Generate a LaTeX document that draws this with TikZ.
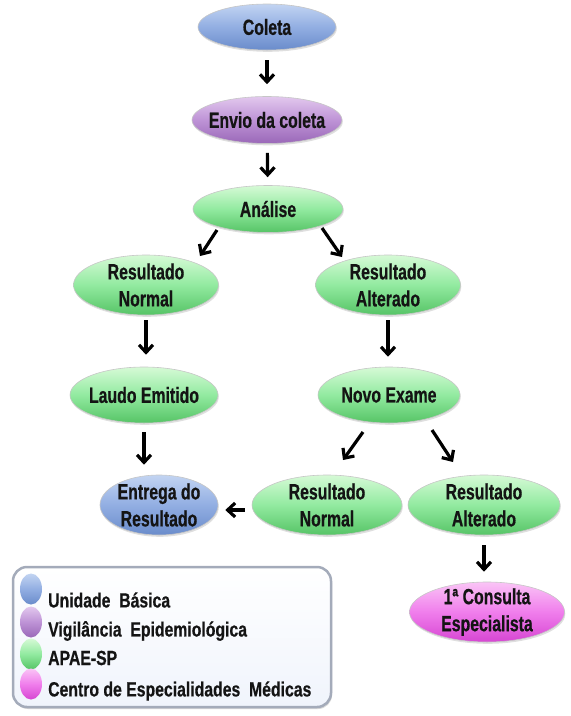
\documentclass[tikz,border=0pt]{standalone}
\usepackage{fontspec}
\setmainfont{Liberation Sans}[FakeStretch=0.72, BoldFeatures={FakeBold=0.6}]
\newfontfamily\legfont{Liberation Sans}[FakeStretch=0.77, BoldFeatures={FakeBold=0.5}]
\usetikzlibrary{shapes.geometric,arrows.meta,calc,shadows}
\definecolor{bT}{HTML}{C2D4F2}
\definecolor{bM}{HTML}{92AEE2}
\definecolor{bB}{HTML}{6A8CCB}
\definecolor{pT}{HTML}{E2C8EE}
\definecolor{pM}{HTML}{BE93D6}
\definecolor{pB}{HTML}{9A68B8}
\definecolor{gT}{HTML}{D6FAD6}
\definecolor{gM}{HTML}{92EAA0}
\definecolor{gB}{HTML}{56C466}
\definecolor{mT}{HTML}{FAC4F6}
\definecolor{mM}{HTML}{F07EEC}
\definecolor{mB}{HTML}{D646D2}
\definecolor{lgFill}{HTML}{F0F4FC}
\definecolor{lgDraw}{HTML}{A4ABBA}
\begin{document}
\begin{tikzpicture}[x=1pt,y=-1pt,
  ell/.style={ellipse, inner sep=0pt, draw=white!55!gray, line width=0.6pt,
    drop shadow={shadow xshift=0.8pt, shadow yshift=-1.8pt, opacity=0.25, fill=gray}},
  blueE/.style={ell, top color=bT, bottom color=bB, middle color=bM},
  purpE/.style={ell, top color=pT, bottom color=pB, middle color=pM},
  grnE/.style={ell, top color=gT, bottom color=gB, middle color=gM},
  magE/.style={ell, top color=mT, bottom color=mB, middle color=mM},
  txt/.style={align=center, inner sep=0pt, text=black!92,
    font=\bfseries\fontsize{22}{27}\selectfont},
  ltxt/.style={anchor=west, inner sep=0pt, text=black!92,
    font=\legfont\bfseries\fontsize{20.5}{22}\selectfont},
  arr/.style={line width=3.2pt, -{Straight Barb[length=7.5pt,width=14pt]}},
  dot/.style={ellipse, inner sep=0pt, minimum width=22pt, minimum height=31pt}
]
\useasboundingbox (0,0) rectangle (571,716);

% nodes
\node[blueE, minimum width=138pt, minimum height=46pt] (co) at (267,27) {};
\node[txt] (cot) at (co) {Coleta};
\node[purpE, minimum width=150pt, minimum height=47pt] (en) at (267,120) {};
\node[txt] (ent) at (en) {Envio da coleta};
\node[grnE, minimum width=150pt, minimum height=47pt] (an) at (268,209) {};
\node[txt] (ant) at (an) {Análise};
\node[grnE, minimum width=145pt, minimum height=60pt] (rn1) at (146,285) {};
\node[txt] (rn1t) at (rn1) {Resultado\\Normal};
\node[grnE, minimum width=145pt, minimum height=60pt] (ra1) at (388,285) {};
\node[txt] (ra1t) at (ra1) {Resultado\\Alterado};
\node[grnE, minimum width=148pt, minimum height=56pt] (le) at (144,395) {};
\node[txt] (let) at (le) {Laudo Emitido};
\node[grnE, minimum width=142pt, minimum height=56pt] (ne) at (389,395) {};
\node[txt] (net) at (ne) {Novo Exame};
\node[blueE, minimum width=118pt, minimum height=60pt] (er) at (159,505) {};
\node[txt] (ert) at (er) {Entrega do\\Resultado};
\node[grnE, minimum width=150pt, minimum height=60pt] (rn2) at (327,505) {};
\node[txt] (rn2t) at (rn2) {Resultado\\Normal};
\node[grnE, minimum width=152pt, minimum height=60pt] (ra2) at (484,505) {};
\node[txt] (ra2t) at (ra2) {Resultado\\Alterado};
\node[magE, minimum width=155pt, minimum height=60pt] (cs) at (487,612) {};
\node[txt] (cst) at (cs) {1ª Consulta\\Especialista};

% arrows
\draw[arr, shorten <=10pt, shorten >=12pt] (co) -- (en);
\draw[arr, shorten <=9pt, shorten >=8pt] (en) -- (an);
\draw[arr] ($(an.center)+(-51,21)$) -- ($(rn1.center)+(54,-29)$);
\draw[arr] ($(an.center)+(54,19)$) -- ($(ra1.center)+(-46,-28)$);
\draw[arr, shorten <=5pt, shorten >=12pt] (rn1.south) -- (rn1.south |- le.north);
\draw[arr, shorten <=5pt, shorten >=10pt] (ra1.south) -- (ra1.south |- ne.north);
\draw[arr, shorten <=9pt, shorten >=10pt] (le.south) -- (le.south |- er.north);
\draw[arr] ($(ne.center)+(-26,37)$) -- ($(rn2.center)+(16,-45)$);
\draw[arr] ($(ne.center)+(43,35)$) -- ($(ra2.center)+(-31,-43)$);
\draw[arr] ($(rn2.west)+(-7,5)$) -- ($(er.east)+(7,5)$);
\draw[arr, shorten <=10pt, shorten >=10pt] (ra2.south) -- (ra2.south |- cs.north);

% legend
\node[draw=lgDraw, line width=2.5pt, rounded corners=14pt, top color=white, bottom color=lgFill,
  minimum width=318pt, minimum height=140pt, inner sep=0pt,
  drop shadow={shadow xshift=1pt, shadow yshift=-2pt, opacity=0.3, fill=gray}] (lg) at (172,637) {};
\node[dot, top color=bT, bottom color=bB, middle color=bM] (d1) at (31,589) {};
\node[dot, top color=pT, bottom color=pB, middle color=pM] (d2) at (31,622) {};
\node[dot, top color=gT, bottom color=gB, middle color=gM] (d3) at (31,654) {};
\node[dot, top color=mT, bottom color=mB, middle color=mM] (d4) at (31,684) {};
\node[ltxt] (l1) at (48,600) {Unidade\ \ Básica};
\node[ltxt] (l2) at (48,631) {Vigilância\ \ Epidemiológica};
\node[ltxt] (l3) at (48,658) {APAE-SP};
\node[ltxt] (l4) at (48,691) {Centro de Especialidades\ \ Médicas};
\end{tikzpicture}
\end{document}
